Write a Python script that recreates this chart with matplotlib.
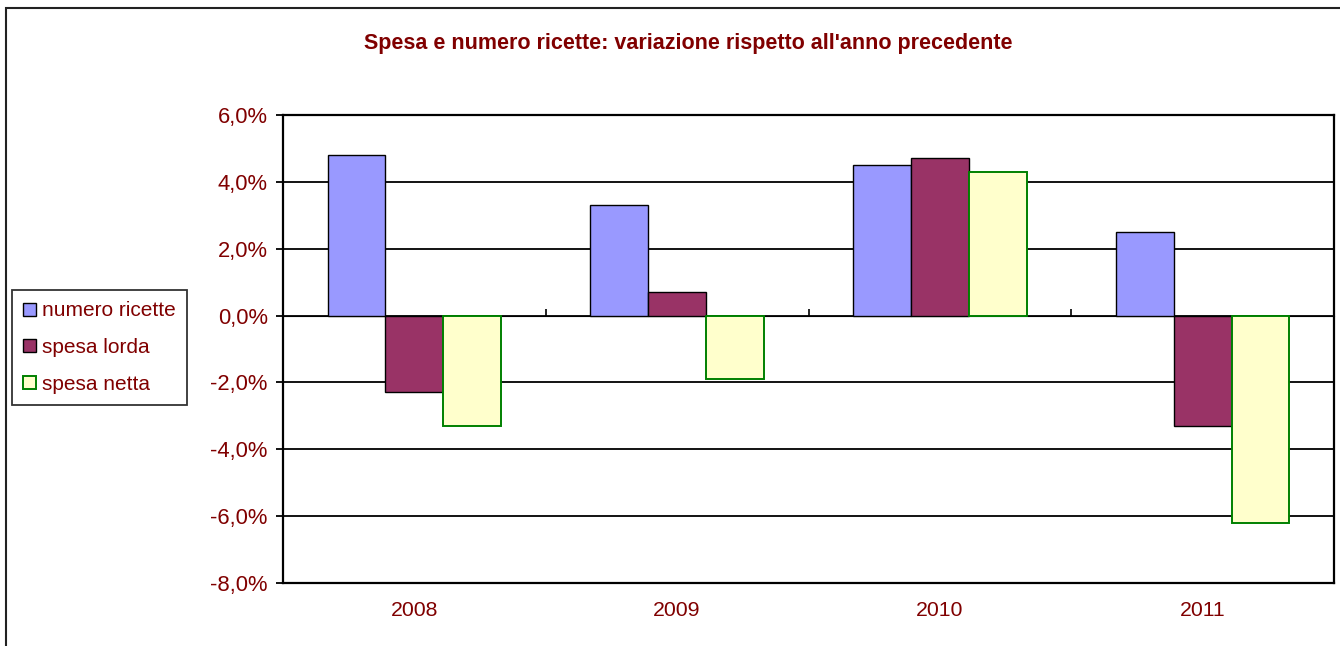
import numpy as np
import matplotlib.pyplot as plt
from matplotlib.patches import Rectangle
from matplotlib.ticker import FuncFormatter

plt.rcParams['font.family'] = ['Liberation Sans', 'DejaVu Sans']

anni = ['2008', '2009', '2010', '2011']
numero_ricette = [4.8, 3.3, 4.5, 2.5]
spesa_lorda = [-2.3, 0.7, 4.7, -3.3]
spesa_netta = [-3.3, -1.9, 4.3, -6.2]

red = '#800000'

fig = plt.figure(figsize=(13.4, 6.46), dpi=100)
ax = fig.add_axes([283 / 1340, 1 - 583 / 646, 1051 / 1340, 468 / 646])

x = np.arange(len(anni))
w = 0.22
ax.bar(x - w, numero_ricette, w, color='#9999FF', edgecolor='black', linewidth=1.0,
       label='numero ricette', zorder=3)
ax.bar(x, spesa_lorda, w, color='#993366', edgecolor='black', linewidth=1.0,
       label='spesa lorda', zorder=3)
ax.bar(x + w, spesa_netta, w, color='#FFFFCC', edgecolor='#008000', linewidth=1.4,
       label='spesa netta', zorder=3)

ax.set_xlim(-0.5, 3.5)
ax.set_ylim(-8, 6)
ax.set_yticks(np.arange(-8, 7, 2))
ax.yaxis.set_major_formatter(FuncFormatter(lambda v, p: f'{v:.1f}%'.replace('.', ',')))
ax.grid(axis='y', color='black', linewidth=1.3, zorder=1)
ax.set_xticks(x)
ax.set_xticklabels(anni)
ax.tick_params(axis='x', length=0, pad=13, labelsize=15.3, labelcolor=red)
ax.tick_params(axis='y', direction='out', length=5, width=1.3, pad=6,
               labelsize=15.8, labelcolor=red)
for s in ax.spines.values():
    s.set_linewidth(1.6)
    s.set_zorder(4)

# category separators on the zero line
sec = ax.secondary_xaxis(8 / 14)
sec.set_xticks([0.5, 1.5, 2.5])
sec.set_xticklabels([])
sec.tick_params(direction='out', length=5, width=1.2)
sec.spines['bottom'].set_linewidth(1.6)

fig.text(0.5134, 1 - 43 / 646, "Spesa e numero ricette: variazione rispetto all'anno precedente",
         ha='center', va='center', fontsize=15.5, fontweight='bold', color=red)

leg = fig.legend(loc='upper left', bbox_to_anchor=(12 / 1340, 1 - 290 / 646),
                 fontsize=15, labelcolor=red, frameon=True, fancybox=False,
                 edgecolor='black', handlelength=0.6, handleheight=0.6,
                 handletextpad=0.3, labelspacing=0.85, borderpad=0.55,
                 borderaxespad=0)
leg.get_frame().set_linewidth(1.3)

fig.add_artist(Rectangle((6 / 1340, -0.1), 1.1, 1.1 - 8 / 646,
                         transform=fig.transFigure, fill=False,
                         edgecolor='#222222', linewidth=1.5))

fig.savefig('out.png', dpi=100)
